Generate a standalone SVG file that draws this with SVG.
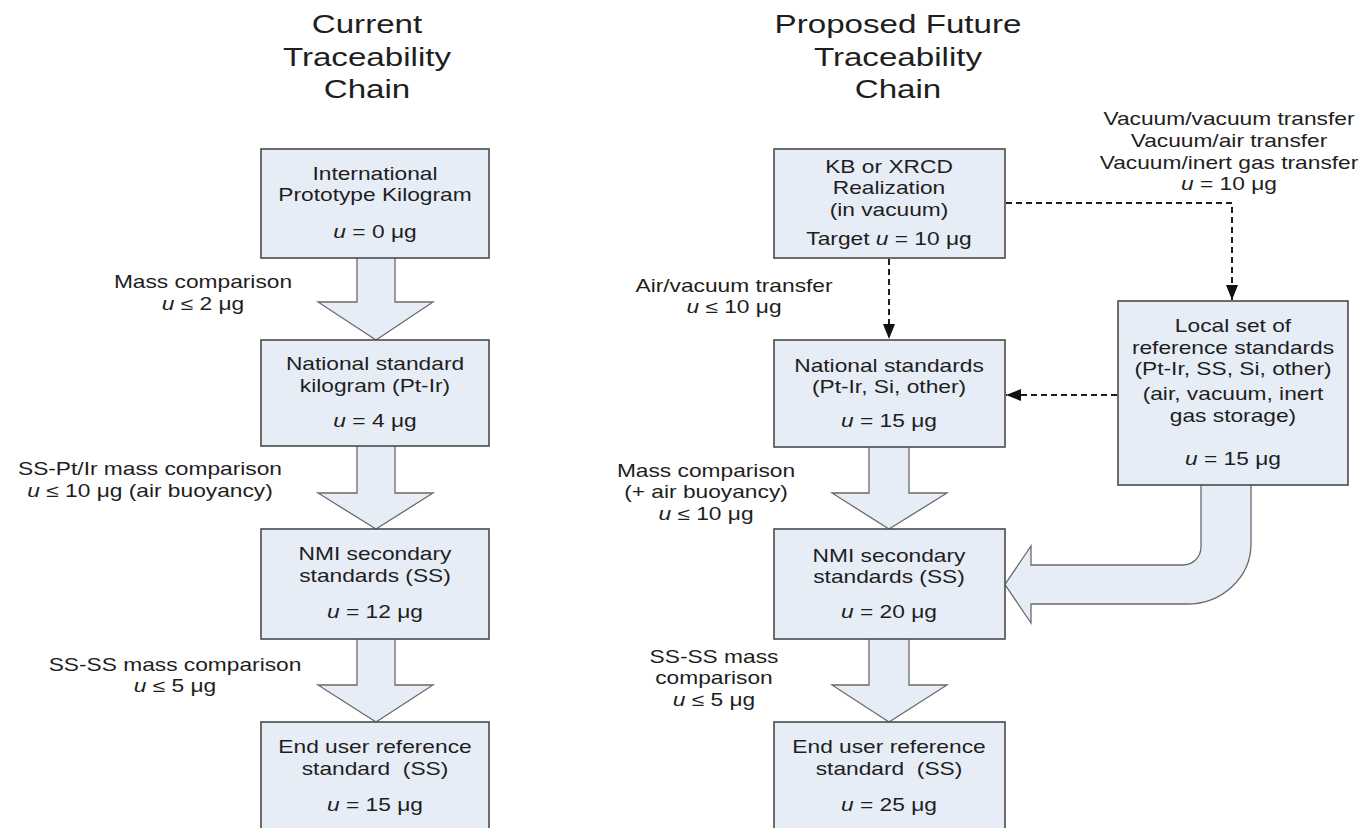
<svg xmlns="http://www.w3.org/2000/svg" width="1363" height="828" viewBox="0 0 1363 828">
<defs>
<style>
.t{font-family:"Liberation Sans",Arial,sans-serif;font-size:17.5px;fill:#1e1e1e;text-anchor:middle}
.ti{font-size:25.5px}
.box{fill:#e7edf7;stroke:#4a4a4a;stroke-width:1.6}
.blk{fill:#e7edf7;stroke:#6a6a6a;stroke-width:1.3;stroke-linejoin:miter}
.dash{fill:none;stroke:#1e1e1e;stroke-width:2;stroke-dasharray:6,4}
.i{font-style:italic}
</style>
<marker id="ah" viewBox="0 0 15 12" refX="15" refY="6" markerWidth="15" markerHeight="12" markerUnits="userSpaceOnUse" orient="auto">
<path d="M0,0 L15,6 L0,12 Z" fill="#111"/>
</marker>
</defs>
<rect width="1363" height="828" fill="#ffffff"/>

<g id="titles">
<text class="t ti" transform="translate(367,33) scale(1.3,1)">Current</text>
<text class="t ti" transform="translate(367,66) scale(1.3,1)">Traceability</text>
<text class="t ti" transform="translate(367,98) scale(1.3,1)">Chain</text>
<text class="t ti" transform="translate(898,33) scale(1.3,1)">Proposed Future</text>
<text class="t ti" transform="translate(898,66) scale(1.3,1)">Traceability</text>
<text class="t ti" transform="translate(898,98) scale(1.3,1)">Chain</text>
</g>

<g id="connectors">
<path class="blk" d="M357,258 L357,302 L318,302 L376,340 L433,302 L395,302 L395,258"/>
<path class="blk" d="M357,446 L357,493 L318,493 L376,529 L433,493 L395,493 L395,446"/>
<path class="blk" d="M357,639 L357,685 L318,685 L376,722 L433,685 L395,685 L395,639"/>
<path class="blk" d="M869,447 L869,493 L832,493 L889,529 L947,493 L909,493 L909,447"/>
<path class="blk" d="M869,639 L869,685 L832,685 L889,722 L947,685 L909,685 L909,639"/>
<path class="blk" d="M1201,485 L1201,547 A18,18 0 0 1 1183,565 L1031,565 L1031,546 L1005,584.5 L1031,623 L1031,604 L1187,604 A64,60 0 0 0 1251,544 L1251,485"/>
<path class="dash" d="M889,259 L889,339" marker-end="url(#ah)"/>
<path class="dash" d="M1006,203 L1232,203 L1232,300" marker-end="url(#ah)"/>
<path class="dash" d="M1117,395 L1006,395" marker-end="url(#ah)"/>
</g>

<g id="labels">
<text class="t" transform="translate(203,288) scale(1.3,1)">Mass comparison</text>
<text class="t" transform="translate(203,310) scale(1.3,1)"><tspan class="i">u</tspan> ≤ 2 μg</text>
<text class="t" transform="translate(150,475) scale(1.3,1)">SS-Pt/Ir mass comparison</text>
<text class="t" transform="translate(150,497) scale(1.3,1)"><tspan class="i">u</tspan> ≤ 10 μg (air buoyancy)</text>
<text class="t" transform="translate(175,671) scale(1.3,1)">SS-SS mass comparison</text>
<text class="t" transform="translate(175,692) scale(1.3,1)"><tspan class="i">u</tspan> ≤ 5 μg</text>
<text class="t" transform="translate(734,292) scale(1.3,1)">Air/vacuum transfer</text>
<text class="t" transform="translate(734,313) scale(1.3,1)"><tspan class="i">u</tspan> ≤ 10 μg</text>
<text class="t" transform="translate(1229,125) scale(1.3,1)">Vacuum/vacuum transfer</text>
<text class="t" transform="translate(1229,147) scale(1.3,1)">Vacuum/air transfer</text>
<text class="t" transform="translate(1229,169) scale(1.3,1)">Vacuum/inert gas transfer</text>
<text class="t" transform="translate(1229,190) scale(1.3,1)"><tspan class="i">u</tspan> = 10 μg</text>
<text class="t" transform="translate(706,477) scale(1.3,1)">Mass comparison</text>
<text class="t" transform="translate(706,498) scale(1.3,1)">(+ air buoyancy)</text>
<text class="t" transform="translate(706,520) scale(1.3,1)"><tspan class="i">u</tspan> ≤ 10 μg</text>
<text class="t" transform="translate(714,663) scale(1.3,1)">SS-SS mass</text>
<text class="t" transform="translate(714,684) scale(1.3,1)">comparison</text>
<text class="t" transform="translate(714,706) scale(1.3,1)"><tspan class="i">u</tspan> ≤ 5 μg</text>
</g>

<g id="ipk">
<rect class="box" x="261" y="149" width="228" height="109"/>
<text class="t" transform="translate(375,180) scale(1.3,1)">International</text>
<text class="t" transform="translate(375,201) scale(1.3,1)">Prototype Kilogram</text>
<text class="t" transform="translate(375,238) scale(1.3,1)"><tspan class="i">u</tspan> = 0 μg</text>
</g>
<g id="national-left">
<rect class="box" x="261" y="340" width="228" height="106"/>
<text class="t" transform="translate(375,370) scale(1.3,1)">National standard</text>
<text class="t" transform="translate(375,392) scale(1.3,1)">kilogram (Pt-Ir)</text>
<text class="t" transform="translate(375,427) scale(1.3,1)"><tspan class="i">u</tspan> = 4 μg</text>
</g>
<g id="nmi-left">
<rect class="box" x="261" y="529" width="228" height="110"/>
<text class="t" transform="translate(375,560) scale(1.3,1)">NMI secondary</text>
<text class="t" transform="translate(375,582) scale(1.3,1)">standards (SS)</text>
<text class="t" transform="translate(375,618) scale(1.3,1)"><tspan class="i">u</tspan> = 12 μg</text>
</g>
<g id="end-left">
<rect class="box" x="261" y="722" width="228" height="115"/>
<text class="t" transform="translate(375,753) scale(1.3,1)">End user reference</text>
<text class="t" transform="translate(375,775) scale(1.3,1)">standard&#160; (SS)</text>
<text class="t" transform="translate(375,811) scale(1.3,1)"><tspan class="i">u</tspan> = 15 μg</text>
</g>

<g id="kb">
<rect class="box" x="774" y="149" width="231" height="109"/>
<text class="t" transform="translate(889,173) scale(1.3,1)">KB or XRCD</text>
<text class="t" transform="translate(889,194) scale(1.3,1)">Realization</text>
<text class="t" transform="translate(889,216) scale(1.3,1)">(in vacuum)</text>
<text class="t" transform="translate(889,245) scale(1.3,1)">Target <tspan class="i">u</tspan> = 10 μg</text>
</g>
<g id="national-right">
<rect class="box" x="774" y="340" width="231" height="107"/>
<text class="t" transform="translate(889,372) scale(1.3,1)">National standards</text>
<text class="t" transform="translate(889,393) scale(1.3,1)">(Pt-Ir, Si, other)</text>
<text class="t" transform="translate(889,427) scale(1.3,1)"><tspan class="i">u</tspan> = 15 μg</text>
</g>
<g id="nmi-right">
<rect class="box" x="774" y="529" width="231" height="110"/>
<text class="t" transform="translate(889,562) scale(1.3,1)">NMI secondary</text>
<text class="t" transform="translate(889,583) scale(1.3,1)">standards (SS)</text>
<text class="t" transform="translate(889,618) scale(1.3,1)"><tspan class="i">u</tspan> = 20 μg</text>
</g>
<g id="end-right">
<rect class="box" x="774" y="722" width="231" height="115"/>
<text class="t" transform="translate(889,753) scale(1.3,1)">End user reference</text>
<text class="t" transform="translate(889,775) scale(1.3,1)">standard&#160; (SS)</text>
<text class="t" transform="translate(889,811) scale(1.3,1)"><tspan class="i">u</tspan> = 25 μg</text>
</g>
<g id="local">
<rect class="box" x="1118" y="301" width="230" height="184"/>
<text class="t" transform="translate(1233,332) scale(1.3,1)">Local set of</text>
<text class="t" transform="translate(1233,354) scale(1.3,1)">reference standards</text>
<text class="t" transform="translate(1233,375) scale(1.3,1)">(Pt-Ir, SS, Si, other)</text>
<text class="t" transform="translate(1233,400) scale(1.3,1)">(air, vacuum, inert</text>
<text class="t" transform="translate(1233,422) scale(1.3,1)">gas storage)</text>
<text class="t" transform="translate(1233,465) scale(1.3,1)"><tspan class="i">u</tspan> = 15 μg</text>
</g>
</svg>
